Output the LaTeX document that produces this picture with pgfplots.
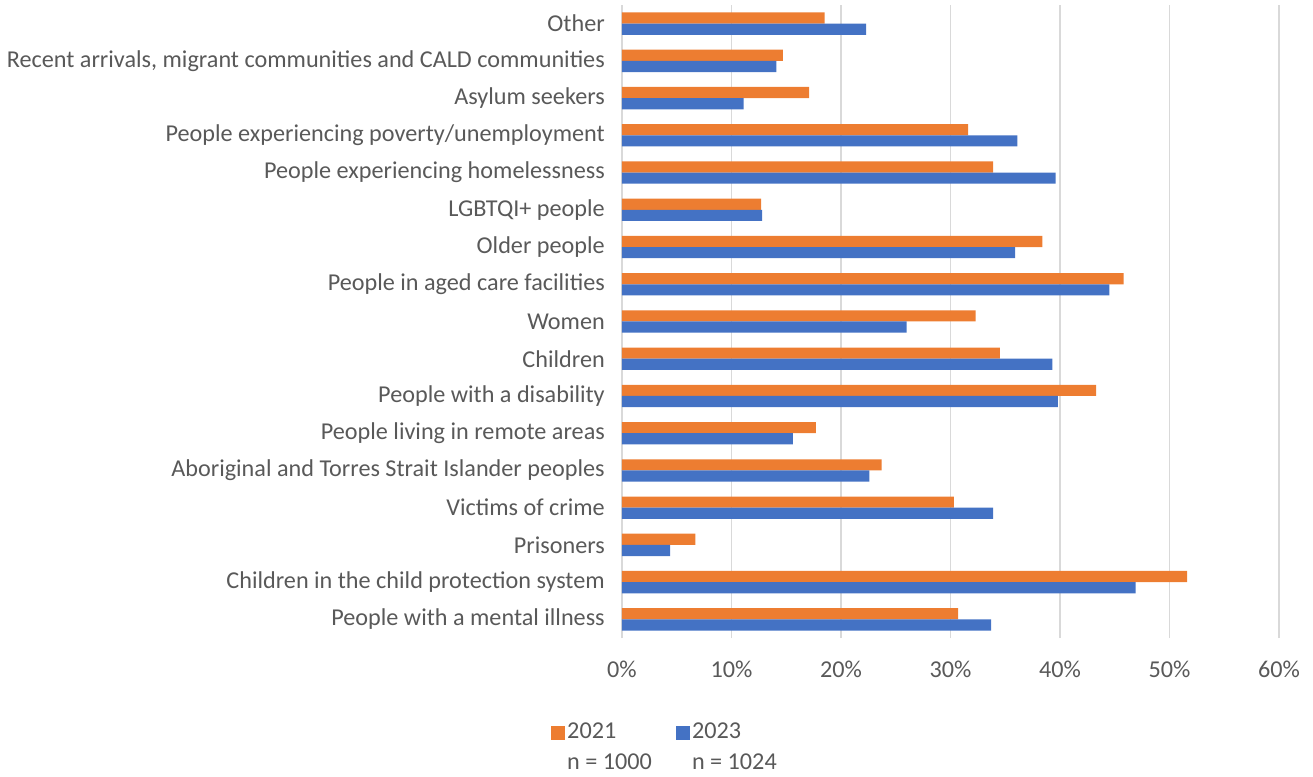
\documentclass[border=0pt]{standalone}
\usepackage{pgfplots}
\pgfplotsset{compat=1.18}
\usepackage{fontspec}
\setmainfont{Carlito}
\definecolor{corange}{HTML}{ED7D31}
\definecolor{cblue}{HTML}{4472C4}
\definecolor{ctext}{HTML}{595959}
\definecolor{cgrid}{HTML}{D9D9D9}
\begin{document}
\begin{tikzpicture}
\begin{axis}[
  scale only axis,
  width=657pt, height=633pt,
  xbar,
  xmin=0, xmax=60,
  ymin=-0.5, ymax=16.5,
  bar width=0.3,
  xtick={0,10,20,30,40,50,60},
  xticklabels={0\%,10\%,20\%,30\%,40\%,50\%,60\%},
  ytick={0,...,16},
  yticklabels={People with a mental illness,Children in the child protection system,Prisoners,Victims of crime,Aboriginal and Torres Strait Islander peoples,People living in remote areas,People with a disability,Children,Women,People in aged care facilities,Older people,LGBTQI+ people,People experiencing homelessness,People experiencing poverty/unemployment,Asylum seekers,{Recent arrivals, migrant communities and CALD communities},Other},
  major tick length=0pt,
  xmajorgrids,
  grid style={cgrid, line width=1.3pt},
  axis line style={draw=none},
  tick label style={font=\fontsize{24.2}{28}\selectfont, text=ctext},
  yticklabel style={inner sep=0pt, anchor=east, xshift=-17pt},
  xticklabel style={inner sep=0pt, anchor=north, yshift=-23pt},
  legend style={draw=none, at={(-0.108,-0.125)}, anchor=north west, inner sep=0pt,
    font=\fontsize{24.2}{28}\selectfont, text=ctext, column sep=0pt,
    /tikz/every even column/.append style={column sep=0pt}},
  legend columns=2,
  legend cell align=left,
  legend image code/.code={\fill[#1] (0pt,-10pt) rectangle (14pt,4pt);},
]
\addplot[fill=corange, draw=none, bar shift=0.15] coordinates {
(30.7,0) (51.6,1) (6.7,2) (30.3,3) (23.7,4) (17.7,5) (43.3,6) (34.5,7) (32.3,8) (45.8,9) (38.4,10) (12.7,11) (33.9,12) (31.6,13) (17.1,14) (14.7,15) (18.5,16)};
\addplot[fill=cblue, draw=none, bar shift=-0.15] coordinates {
(33.7,0) (46.9,1) (4.4,2) (33.9,3) (22.6,4) (15.6,5) (39.8,6) (39.3,7) (26.0,8) (44.5,9) (35.9,10) (12.8,11) (39.6,12) (36.1,13) (11.1,14) (14.1,15) (22.3,16)};
\legend{{\begin{tabular}[t]{@{}l@{}}2021\\[3pt]n = 1000\end{tabular}\hspace*{22pt}},{\begin{tabular}[t]{@{}l@{}}2023\\[3pt]n = 1024\end{tabular}}}
\end{axis}
\pgfresetboundingbox
\path (-622pt,-138pt) rectangle (691pt,638pt);
\end{tikzpicture}
\end{document}
